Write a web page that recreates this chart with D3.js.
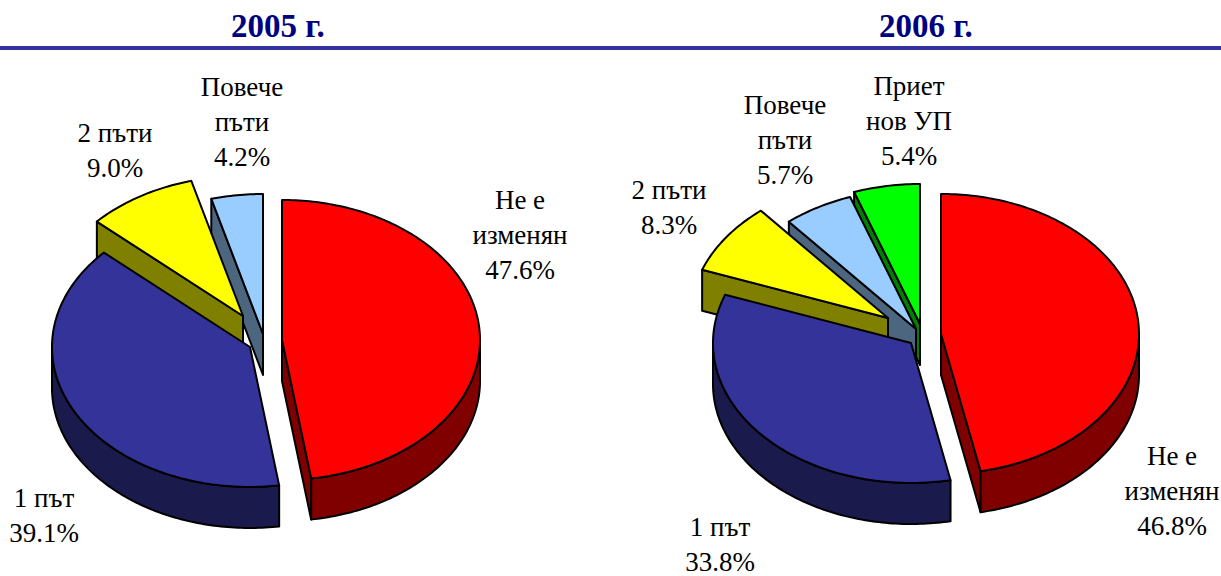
<!DOCTYPE html>
<html><head><meta charset="utf-8"><script src="https://cdn.jsdelivr.net/npm/d3@7/dist/d3.min.js"></script></head><body style="margin:0;background:#fff">
<svg width="1221" height="576" id="c"></svg>
<script>
// ---- data ----
const years = ["2005 г.", "2006 г."];
const categories2005 = ["Не е изменян", "1 път", "2 пъти", "Повече пъти"];
const values2005 = [47.6, 39.1, 9.0, 4.2];
const categories2006 = ["Не е изменян", "1 път", "2 пъти", "Повече пъти", "Приет нов УП"];
const values2006 = [46.8, 33.8, 8.3, 5.7, 5.4];

// ---- styles ----
const topColors = {"Не е изменян":"#ff0000","1 път":"#333399","2 пъти":"#ffff00","Повече пъти":"#99ccff","Приет нов УП":"#00ff00"};
const wallColors = {"Не е изменян":"#800000","1 път":"#1a1a4d","2 пъти":"#808000","Повече пъти":"#4d6680","Приет нов УП":"#008000"};
const labelLines = {"Не е изменян":["Не е","изменян"],"1 път":["1 път"],"2 пъти":["2 пъти"],"Повече пъти":["Повече","пъти"],"Приет нов УП":["Приет","нов УП"]};

// ---- layout ----
const RX = 198, RY = 140, DEPTH = 41;
const apex2005 = [[282,340],[250,347],[243,316],[263,334]];
const apex2006 = [[941,334],[911,343],[888,318],[916,329],[920,324]];
const labelPos2005 = [[520,209],[44,507],[115,142],[242,96]];
const labelPos2006 = [[1172,465],[720,536],[669,199],[785,114],[909,95]];
const titleX = [278, 926];
const LINE_H = 35;
const SERIF = '"Liberation Serif"';

const svg = d3.select("#c");
const xR = d3.scaleLinear().domain([-1,1]).range([-RX,RX]);
const yR = d3.scaleLinear().domain([-1,1]).range([-RY,RY]);
const line = d3.line();
const pie = d3.pie().sort(null).startAngle(0).endAngle(2*Math.PI);
const fmt = d3.format(".1f");

function pt(c, a, dz=0){ return [c[0]+xR(Math.sin(a)), c[1]-yR(Math.cos(a))+dz]; }
function arcPts(c, a0, a1, dz=0){
  const n = Math.max(2, Math.ceil(Math.abs(a1-a0)/(Math.PI/180)));
  return d3.range(n+1).map(i => pt(c, a0+(a1-a0)*i/n, dz));
}
function shape(g, pts, fill){
  g.append("path").attr("d", line(pts)+"Z").attr("fill", fill)
   .attr("stroke","#000").attr("stroke-width",2).attr("stroke-linejoin","round");
}
function drawPie(cats, vals, apexes){
  const arcs = pie(vals);
  const order = [4,3,2,1,0].filter(i => i < vals.length);
  const g = svg.append("g");
  order.forEach(i => {
    const s = arcs[i], c = apexes[i], name = cats[i];
    const wall = wallColors[name], top = topColors[name];
    const a0 = s.startAngle, a1 = s.endAngle;
    if (Math.sin(a0) < -1e-6) {
      const p = pt(c,a0);
      shape(g, [c, p, [p[0],p[1]+DEPTH], [c[0],c[1]+DEPTH]], wall);
    }
    if (Math.sin(a1) > 1e-6) {
      const p = pt(c,a1);
      shape(g, [c, p, [p[0],p[1]+DEPTH], [c[0],c[1]+DEPTH]], wall);
    }
    const r0 = Math.max(a0, Math.PI/2), r1 = Math.min(a1, 3*Math.PI/2);
    if (r1 > r0) {
      shape(g, arcPts(c,r0,r1).concat(arcPts(c,r1,r0,DEPTH)), wall);
    }
    shape(g, [c].concat(arcPts(c,a0,a1)), top);
  });
}
function drawLabels(cats, vals, pos){
  cats.forEach((name,i) => {
    const lines = labelLines[name].concat([fmt(vals[i])+"%"]);
    lines.forEach((l,j) => svg.append("text")
      .attr("text-anchor","middle").attr("x",pos[i][0]).attr("y",pos[i][1]+j*LINE_H)
      .style("font-family",SERIF).style("font-size","27px")
      .text(l));
  });
}

drawLabels(categories2005, values2005, labelPos2005);
drawLabels(categories2006, values2006, labelPos2006);
svg.append("rect").attr("x",0).attr("y",46).attr("width",1221).attr("height",4).attr("fill","#333399");
drawPie(categories2005, values2005, apex2005);
drawPie(categories2006, values2006, apex2006);
years.forEach((y,i) => svg.append("text").attr("x",titleX[i]).attr("y",37).attr("text-anchor","middle")
  .style("font-family",SERIF).style("font-weight","bold").style("font-size","33px")
  .style("fill","#000080").text(y));
</script>
</body></html>
